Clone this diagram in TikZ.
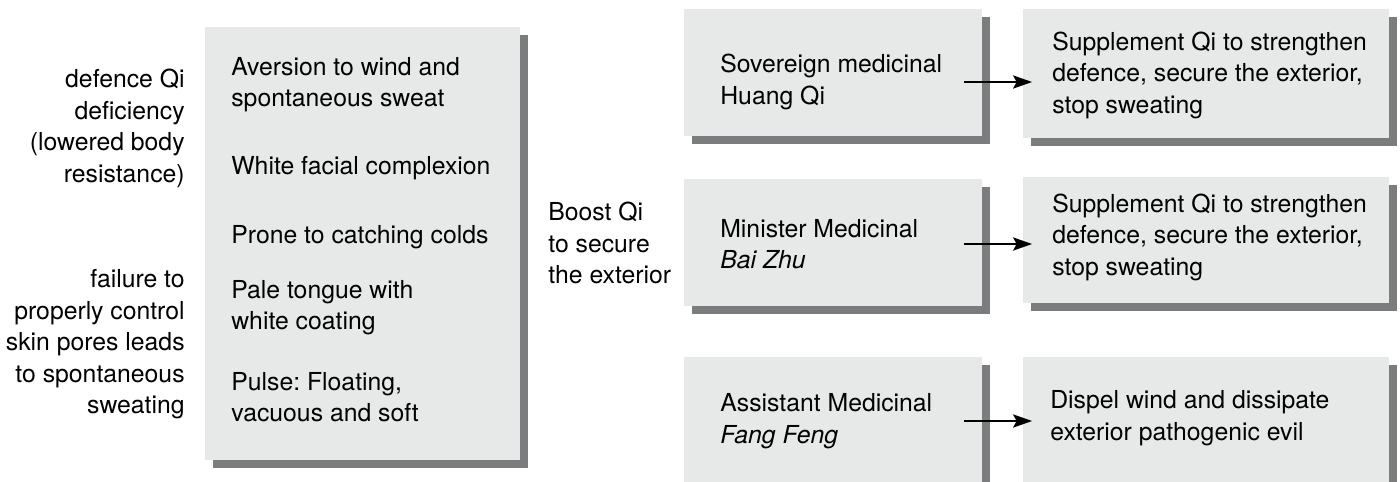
\documentclass[tikz,border=0pt]{standalone}
\usepackage{fontspec}
\setmainfont{TeX Gyre Heros}
\usetikzlibrary{arrows.meta,shadows}
\definecolor{boxgray}{HTML}{E7E8E8}
\definecolor{shadegray}{HTML}{7B7C7D}
\frenchspacing
\tikzset{%
    box/.style={rectangle, fill=boxgray, inner sep=0pt, drop shadow={shadow xshift=0.16cm, shadow yshift=-0.16cm, fill=shadegray, opacity=1}},
    txt/.style={inner sep=0pt, align=left, anchor=west, font=\fontsize{14.1}{17.9}\selectfont},
    lab/.style={inner sep=0pt, align=right, anchor=east, font=\fontsize{14.1}{17.9}\selectfont},
    arr/.style={line width = 1.5pt, -{Stealth[length=0.38cm, width=0.26cm, inset=0.07cm]}}
}

\begin{document}
\begin{tikzpicture}[x=0.02cm, y=-0.02cm]
    \path[use as bounding box, clip] (0,0) rectangle (1400,481);
    \node[box, minimum width=6.3cm, minimum height=8.66cm] (symbox) at (362.5,243.5) {};
    \node[box, minimum width=5.96cm, minimum height=2.54cm] (sovbox) at (833,72.5) {};
    \node[box, minimum width=5.96cm, minimum height=2.54cm] (minbox) at (833,242.5) {};
    \node[box, minimum width=5.96cm, minimum height=2.56cm] (assbox) at (833,421) {};
    \node[box, minimum width=7.34cm, minimum height=2.58cm] (supabox) at (1206,73.5) {};
    \node[box, minimum width=7.34cm, minimum height=2.52cm] (supbbox) at (1206,240) {};
    \node[box, minimum width=7.34cm, minimum height=2.56cm] (disbox) at (1206,421) {};
    \node[lab] (defic) at (185,128.5) {defence Qi\\deficiency\\(lowered body\\resistance)};
    \node[lab] (pores) at (185,344.5) {failure to\\properly control\\skin pores leads\\to spontaneous\\sweating};
    \node[txt] (sym1) at (231,84.5) {Aversion to wind and\\spontaneous sweat};
    \node[txt] (sym2) at (231,168) {White facial complexion};
    \node[txt] (sym3) at (231,237) {Prone to catching colds};
    \node[txt] (sym4) at (231,307.5) {Pale tongue with\\white coating};
    \node[txt] (sym5) at (231,397) {Pulse: Floating,\\vacuous and soft};
    \node[txt] (boost) at (548,243) {Boost Qi\\to secure\\the exterior};
    \node[txt] (sovtxt) at (720,82) {Sovereign medicinal\\Huang Qi};
    \node[txt] (mintxt) at (720,244) {Minister Medicinal\\\textit{Bai Zhu}};
    \node[txt] (asstxt) at (720,421) {Assistant Medicinal\\\textit{Fang Feng}};
    \node[txt] (supatxt) at (1052,75) {Supplement Qi to strengthen\\defence, secure the exterior,\\stop sweating};
    \node[txt] (supbtxt) at (1052,237) {Supplement Qi to strengthen\\defence, secure the exterior,\\stop sweating};
    \node[txt] (distxt) at (1050,418) {Dispel wind and dissipate\\exterior pathogenic evil};
    \draw[arr] ([xshift=-0.36cm]sovbox.east |- sovtxt.west) -- ([xshift=0.2cm]supabox.west |- sovtxt.west);
    \draw[arr] ([xshift=-0.36cm]minbox.east |- mintxt.west) -- ([xshift=0.2cm]supbbox.west |- mintxt.west);
    \draw[arr] ([xshift=-0.36cm]assbox.east |- asstxt.west) -- ([xshift=0.2cm]disbox.west |- asstxt.west);
\end{tikzpicture}
\end{document}
